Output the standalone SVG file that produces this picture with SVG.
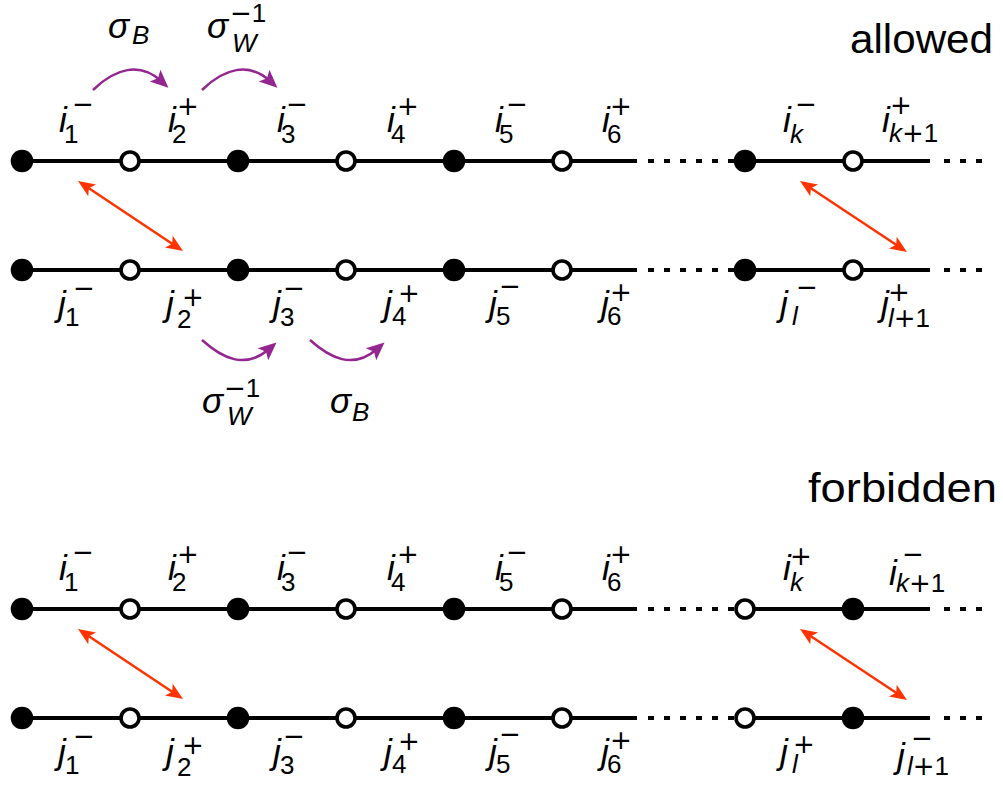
<svg xmlns="http://www.w3.org/2000/svg" width="1003" height="787" viewBox="0 0 1003 787">
<style>
.ln{stroke:#000;stroke-width:4;fill:none}
.dt{stroke:#000;stroke-width:4;fill:none;stroke-dasharray:6 10}
.f{fill:#000}
.o{fill:#fff;stroke:#000;stroke-width:3.6}
.red{stroke:#ff3300;stroke-width:2.5;fill:none;marker-start:url(#rh);marker-end:url(#rh)}
.pur{stroke:#93278f;stroke-width:2.5;fill:none;marker-end:url(#ph)}
text{font-family:"Liberation Sans",Arial,sans-serif;fill:#000}
.m{font-size:35px;font-style:italic}
.s{font-size:26px}
.si{font-size:26px;font-style:italic}
.g{font-family:"DejaVu Sans",sans-serif;font-size:26px}
.t{font-size:41px}
</style>
<defs>
<marker id="rh" markerUnits="userSpaceOnUse" markerWidth="30" markerHeight="30" refX="8" refY="0" viewBox="-2 -10 30 20" orient="auto-start-reverse" overflow="visible">
<path d="M0,-7 L17,0 L0,7 L4,0 Z" fill="#ff3300"/>
</marker>
<marker id="ph" markerUnits="userSpaceOnUse" markerWidth="30" markerHeight="30" refX="8" refY="0" viewBox="-2 -10 30 20" orient="auto" overflow="visible">
<path d="M0,-8 L18,0 L0,8 L4,0 Z" fill="#93278f"/>
</marker>
</defs>

<g id="connectors">
<path class="ln" d="M22,161H637M737,161H930M22,270H637M737,270H930M22,609H637M737,609H930M22,718H637M737,718H930"/>
<path class="dt" d="M648,161H736M944,161H990M648,270H736M944,270H990M648,609H736M944,609H990M648,718H736M944,718H990"/>
<line class="red" x1="85.5" y1="186" x2="175.5" y2="246"/>
<line class="red" x1="807.5" y1="186" x2="899.5" y2="247"/>
<line class="red" x1="85.5" y1="634" x2="175.5" y2="694"/>
<line class="red" x1="807.5" y1="634" x2="899.5" y2="695"/>
<path class="pur" d="M93,90 C115,68 140,62 161,81"/>
<path class="pur" d="M202,90 C224,68 249,62 270,81"/>
<path class="pur" d="M202,340 C222,358 245,370 269,349"/>
<path class="pur" d="M310,340 C330,358 353,370 377,349"/>
</g>

<g id="row-a">
<circle id="a1" class="f" cx="22" cy="161" r="11.3"/>
<circle id="a2" class="o" cx="130" cy="161" r="9"/>
<circle id="a3" class="f" cx="238" cy="161" r="11.3"/>
<circle id="a4" class="o" cx="346" cy="161" r="9"/>
<circle id="a5" class="f" cx="454" cy="161" r="11.3"/>
<circle id="a6" class="o" cx="562" cy="161" r="9"/>
<circle id="ak" class="f" cx="745" cy="161" r="11.3"/>
<circle id="ak1" class="o" cx="853" cy="161" r="9"/>
</g>
<g id="row-b">
<circle id="b1" class="f" cx="22" cy="270" r="11.3"/>
<circle id="b2" class="o" cx="130" cy="270" r="9"/>
<circle id="b3" class="f" cx="238" cy="270" r="11.3"/>
<circle id="b4" class="o" cx="346" cy="270" r="9"/>
<circle id="b5" class="f" cx="454" cy="270" r="11.3"/>
<circle id="b6" class="o" cx="562" cy="270" r="9"/>
<circle id="bl" class="f" cx="745" cy="270" r="11.3"/>
<circle id="bl1" class="o" cx="853" cy="270" r="9"/>
</g>
<g id="row-c">
<circle id="c1" class="f" cx="22" cy="609" r="11.3"/>
<circle id="c2" class="o" cx="130" cy="609" r="9"/>
<circle id="c3" class="f" cx="238" cy="609" r="11.3"/>
<circle id="c4" class="o" cx="346" cy="609" r="9"/>
<circle id="c5" class="f" cx="454" cy="609" r="11.3"/>
<circle id="c6" class="o" cx="562" cy="609" r="9"/>
<circle id="ck" class="o" cx="745" cy="609" r="9"/>
<circle id="ck1" class="f" cx="853" cy="609" r="11.3"/>
</g>
<g id="row-d">
<circle id="d1" class="f" cx="22" cy="718" r="11.3"/>
<circle id="d2" class="o" cx="130" cy="718" r="9"/>
<circle id="d3" class="f" cx="238" cy="718" r="11.3"/>
<circle id="d4" class="o" cx="346" cy="718" r="9"/>
<circle id="d5" class="f" cx="454" cy="718" r="11.3"/>
<circle id="d6" class="o" cx="562" cy="718" r="9"/>
<circle id="dl" class="o" cx="745" cy="718" r="9"/>
<circle id="dl1" class="f" cx="853" cy="718" r="11.3"/>
</g>

<g id="titles">
<text class="t" x="993" y="53" text-anchor="end" textLength="143" lengthAdjust="spacingAndGlyphs">allowed</text>
<text class="t" x="997" y="502" text-anchor="end" textLength="189" lengthAdjust="spacingAndGlyphs">forbidden</text>
</g>

<g id="sigma-labels">
<text class="m" x="108" y="38">σ</text><text class="si" x="132" y="44">B</text>
<text class="m" x="207" y="38">σ</text><text class="si" x="232" y="52">W</text><text x="230" y="22"><tspan class="g">−</tspan><tspan class="s">1</tspan></text>
<text class="m" x="202" y="413">σ</text><text class="si" x="227" y="425">W</text><text x="224" y="397"><tspan class="g">−</tspan><tspan class="s">1</tspan></text>
<text class="m" x="330" y="413">σ</text><text class="si" x="352" y="421">B</text>
</g>

<g id="labels-a">
<text class="m" x="59" y="132">i</text><text class="s" x="64" y="143">1</text><text class="g" x="72" y="113">−</text>
<text class="m" x="168" y="132">i</text><text class="s" x="172" y="143">2</text><text class="g" x="177" y="115">+</text>
<text class="m" x="277" y="132">i</text><text class="s" x="281" y="143">3</text><text class="g" x="286" y="113">−</text>
<text class="m" x="387" y="132">i</text><text class="s" x="391" y="143">4</text><text class="g" x="397" y="115">+</text>
<text class="m" x="495" y="132">i</text><text class="s" x="499" y="143">5</text><text class="g" x="506" y="113">−</text>
<text class="m" x="602" y="132">i</text><text class="s" x="607" y="143">6</text><text class="g" x="610" y="115">+</text>
<text class="m" x="783" y="132">i</text><text class="si" x="790" y="143">k</text><text class="g" x="795" y="113">−</text>
<text class="m" x="882" y="132">i</text><text x="889" y="142"><tspan class="si">k</tspan><tspan class="g">+</tspan><tspan class="s">1</tspan></text><text class="g" x="890" y="114">+</text>
</g>

<g id="labels-b">
<text class="m" x="58" y="316">j</text><text class="s" x="65" y="326">1</text><text class="g" x="73" y="297">−</text>
<text class="m" x="166" y="316">j</text><text class="s" x="177" y="328">2</text><text class="g" x="182" y="306">+</text>
<text class="m" x="273" y="316">j</text><text class="s" x="280" y="326">3</text><text class="g" x="283" y="297">−</text>
<text class="m" x="384" y="316">j</text><text class="s" x="392" y="325">4</text><text class="g" x="398" y="302">+</text>
<text class="m" x="489" y="316">j</text><text class="s" x="496" y="325">5</text><text class="g" x="499" y="295">−</text>
<text class="m" x="601" y="316">j</text><text class="s" x="607" y="325">6</text><text class="g" x="610" y="301">+</text>
<text class="m" x="780" y="316">j</text><text class="si" x="792" y="325">l</text><text class="g" x="796" y="296">−</text>
<text class="m" x="881" y="316">j</text><text x="888" y="327"><tspan class="si">l</tspan><tspan class="g">+</tspan><tspan class="s">1</tspan></text><text class="g" x="888" y="301">+</text>
</g>

<g id="labels-c">
<text class="m" x="59" y="580">i</text><text class="s" x="64" y="591">1</text><text class="g" x="72" y="561">−</text>
<text class="m" x="168" y="580">i</text><text class="s" x="172" y="591">2</text><text class="g" x="177" y="563">+</text>
<text class="m" x="277" y="580">i</text><text class="s" x="281" y="591">3</text><text class="g" x="286" y="561">−</text>
<text class="m" x="387" y="580">i</text><text class="s" x="391" y="591">4</text><text class="g" x="397" y="563">+</text>
<text class="m" x="495" y="580">i</text><text class="s" x="499" y="591">5</text><text class="g" x="506" y="561">−</text>
<text class="m" x="602" y="580">i</text><text class="s" x="607" y="591">6</text><text class="g" x="610" y="563">+</text>
<text class="m" x="783" y="580">i</text><text class="si" x="790" y="591">k</text><text class="g" x="790" y="565">+</text>
<text class="m" x="889" y="585">i</text><text x="896" y="592"><tspan class="si">k</tspan><tspan class="g">+</tspan><tspan class="s">1</tspan></text><text class="g" x="902" y="563">−</text>
</g>

<g id="labels-d">
<text class="m" x="58" y="764">j</text><text class="s" x="65" y="774">1</text><text class="g" x="73" y="745">−</text>
<text class="m" x="166" y="764">j</text><text class="s" x="177" y="776">2</text><text class="g" x="182" y="754">+</text>
<text class="m" x="273" y="764">j</text><text class="s" x="280" y="774">3</text><text class="g" x="283" y="745">−</text>
<text class="m" x="384" y="764">j</text><text class="s" x="392" y="773">4</text><text class="g" x="398" y="750">+</text>
<text class="m" x="489" y="764">j</text><text class="s" x="496" y="773">5</text><text class="g" x="499" y="743">−</text>
<text class="m" x="601" y="764">j</text><text class="s" x="607" y="773">6</text><text class="g" x="610" y="749">+</text>
<text class="m" x="780" y="764">j</text><text class="si" x="792" y="773">l</text><text class="g" x="793" y="753">+</text>
<text class="m" x="897" y="768">j</text><text x="907" y="775"><tspan class="si">l</tspan><tspan class="g">+</tspan><tspan class="s">1</tspan></text><text class="g" x="911" y="747">−</text>
</g>
</svg>
